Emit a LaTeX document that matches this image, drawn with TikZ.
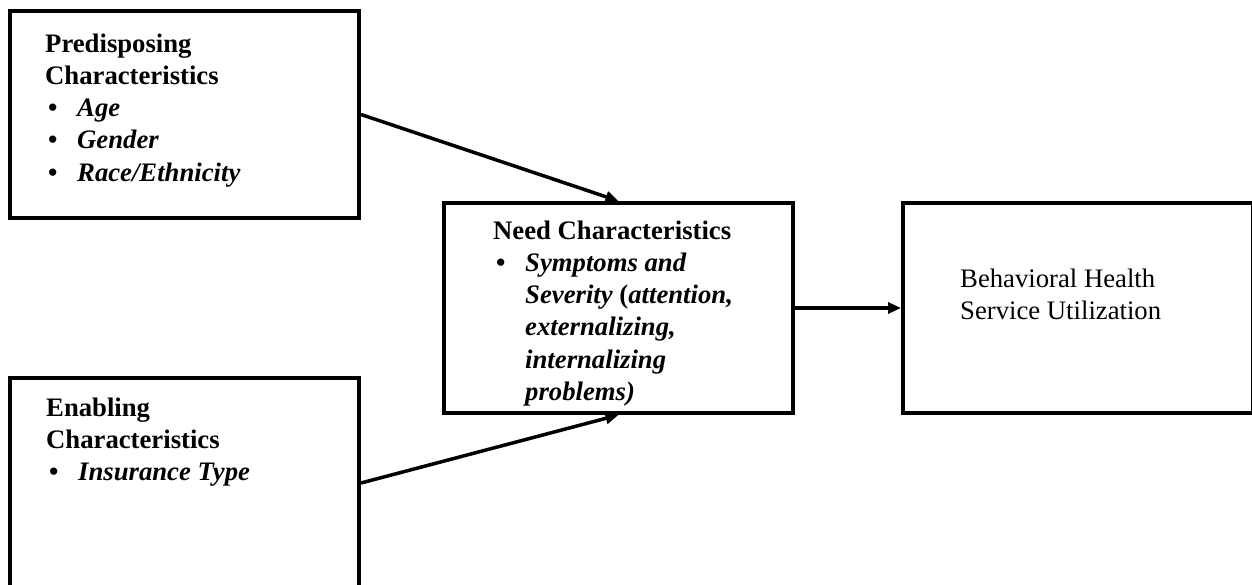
\documentclass[tikz,border=0pt]{standalone}
\usepackage{fontspec}
\setmainfont{Liberation Serif}
\usetikzlibrary{arrows.meta}
\newcommand{\itm}[1]{\makebox[32pt][l]{\hspace{3pt}\textbullet}\textit{#1}}
\newcommand{\ind}{\hspace*{32pt}}

\begin{document}
\begin{tikzpicture}[x=1pt,y=-1pt,
  box/.style={draw,line width=4pt,minimum width=349pt,minimum height=208pt,inner sep=0pt},
  txt/.style={anchor=north west,inner sep=0pt,align=left,font=\fontsize{26.7}{32.2}\selectfont\bfseries},
  arr/.style={-{Triangle[length=13pt,width=11pt]},line width=3.5pt}]
  \useasboundingbox (0,0) rectangle (1252,585);
  \node[box,minimum height=207pt] (pre) at (184.5,114.5) {};
  \node[box,minimum height=210pt] (need) at (618.5,308) {};
  \node[box,minimum width=350pt,minimum height=210pt] (use) at (1078,308) {};
  \node[box,minimum height=210pt] (enb) at (184.5,483) {};
  % box texts
  \node[txt] (pretxt) at (45,29.5) {\strut Predisposing\\ Characteristics\\ \itm{Age}\\ \itm{Gender}\\ \itm{Race/Ethnicity}};
  \node[txt] (needtxt) at (493,216.5) {\strut Need Characteristics\\ \itm{Symptoms and}\\
    \ind\textit{Severity} (\textit{attention,}\\ \ind\textit{externalizing,}\\ \ind\textit{internalizing}\\ \ind\textit{problems)}};
  \node[txt,font=\fontsize{26.7}{32.2}\selectfont] (usetxt) at (960,264.5) {\strut Behavioral Health\\ Service Utilization};
  \node[txt] (enbtxt) at (46,393.5) {\strut Enabling\\ Characteristics\\ \itm{Insurance Type}};
  \draw[arr] (pre.east) -- (need.north);
  \draw[arr] (enb.east) -- (need.south);
  \draw[arr] (need.east) -- (use.west);
\end{tikzpicture}
\end{document}
